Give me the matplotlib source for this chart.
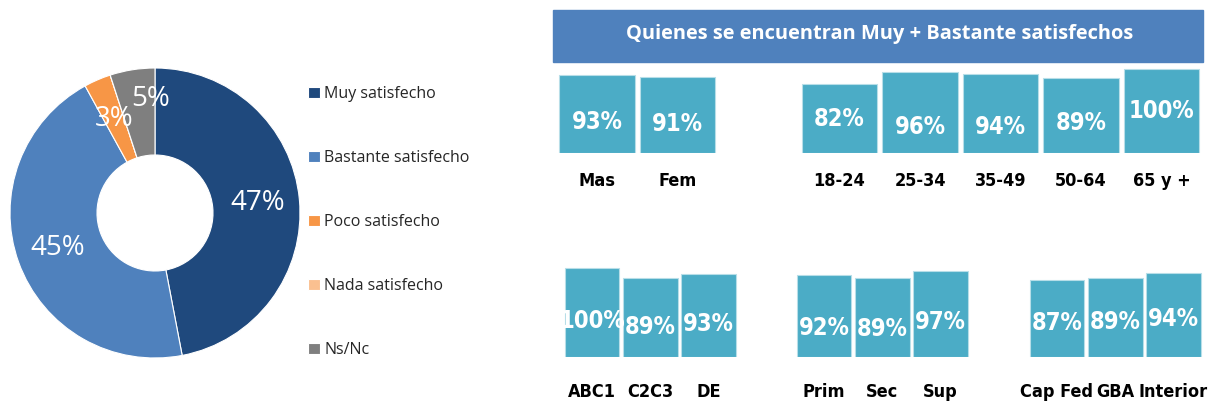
import matplotlib.pyplot as plt
import numpy as np

# donut data
sat_labels = ['Muy satisfecho', 'Bastante satisfecho', 'Poco satisfecho', 'Nada satisfecho', 'Ns/Nc']
sat_values = [47, 45, 3, 0, 5]
sat_colors = ['#1F497D', '#4F81BD', '#F79646', '#FAC090', '#7F7F7F']

# bar groups (Muy + Bastante)
sexo = ['Mas', 'Fem']
sexo_vals = [93, 91]
edad = ['18-24', '25-34', '35-49', '50-64', '65 y +']
edad_vals = [82, 96, 94, 89, 100]
nse = ['ABC1', 'C2C3', 'DE']
nse_vals = [100, 89, 93]
educ = ['Prim', 'Sec', 'Sup']
educ_vals = [92, 89, 97]
zona = ['Cap Fed', 'GBA', 'Interior']
zona_vals = [87, 89, 94]

W, H = 1211, 404
fig = plt.figure(figsize=(W / 100, H / 100), dpi=100)
plt.rcParams['font.family'] = ['Open Sans', 'DejaVu Sans']


def box(x0, y0, x1, y1):
    # pixel box (top-left origin) -> figure fractions
    return [x0 / W, 1 - y1 / H, (x1 - x0) / W, (y1 - y0) / H]


# ---- donut ----
cx, cy, r = 155, 213, 145
ax = fig.add_axes(box(cx - 150, cy - 150, cx + 150, cy + 150))
lim = 150 / r
wedges, _ = ax.pie(sat_values, colors=sat_colors, startangle=90, counterclock=False,
                   radius=1, wedgeprops=dict(width=0.6, edgecolor='white', linewidth=0.8))
for w, v in zip(wedges, sat_values):
    if v == 0:
        continue
    mid = np.deg2rad((w.theta1 + w.theta2) / 2)
    d = 0.71
    if v == 5:
        d = 0.79
        mid -= np.deg2rad(7)
    ax.text(d * np.cos(mid), d * np.sin(mid), f'{v}%', color='white', fontsize=20,
            ha='center', va='center')
ax.set_xlim(-lim, lim)
ax.set_ylim(-lim, lim)
ax.set_aspect('equal')
ax.axis('off')

leg = fig.legend(wedges, sat_labels, loc='upper left', bbox_to_anchor=(294 / W, 1 - 72 / H),
                 frameon=False, fontsize=11.5, labelspacing=3.0, handlelength=0.7,
                 handleheight=0.7, handletextpad=0.3, labelcolor='#262626')

# ---- title banner ----
fig.patches.append(plt.Rectangle((553 / W, 1 - 62 / H), 650 / W, 52 / H,
                                 transform=fig.transFigure, color='#4F81BD', zorder=0))
fig.text(880 / W, 1 - 34 / H, 'Quienes se encuentran Muy + Bastante satisfechos',
         color='white', fontsize=14.4, fontweight='bold', ha='center', va='center')

bar_color = '#4BACC6'
narrow = dict(family='DejaVu Sans', fontstretch='condensed', fontweight='bold')


def group(cats, vals, c0, pitch, base, scale, label_y, lab_frac):
    n = len(cats)
    x0 = c0 - pitch / 2
    x1 = c0 + pitch * (n - 1) + pitch / 2
    top = base - 110 * scale
    a = fig.add_axes(box(x0, top, x1, base))
    a.bar(range(n), vals, width=0.94, color=bar_color, edgecolor='#B7DEE8', linewidth=0.8)
    for i, v in enumerate(vals):
        a.text(i, v * lab_frac[i], f'{v}%', color='white', fontsize=17,
               ha='center', va='center', **narrow)
    a.set_xlim(-0.5, n - 0.5)
    a.set_ylim(0, 110)
    a.set_xticks(range(n))
    a.set_xticklabels(cats, fontsize=13, **narrow)
    a.tick_params(axis='x', length=0, pad=(label_y - base) * 0.72 - 6.5)
    a.set_yticks([])
    for s in a.spines.values():
        s.set_visible(False)


group(sexo, sexo_vals, 597, 80.5, 153, 0.84, 181, [0.40, 0.38])
group(edad, edad_vals, 839.5, 80.5, 153, 0.84, 181, [0.49, 0.32, 0.33, 0.40, 0.50])
group(nse, nse_vals, 592, 58.25, 357, 0.89, 392, [0.40, 0.38, 0.40])
group(educ, educ_vals, 824, 58.25, 357, 0.89, 392, [0.36, 0.35, 0.40])
group(zona, zona_vals, 1057, 58.25, 357, 0.89, 392, [0.44, 0.44, 0.45])

fig.savefig('out.png', dpi=100)
